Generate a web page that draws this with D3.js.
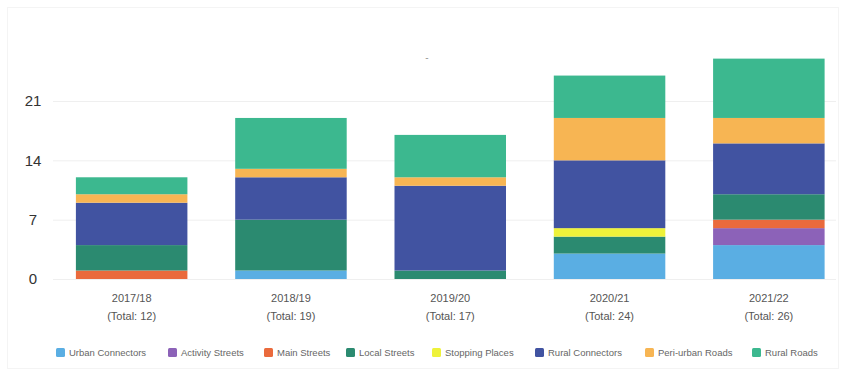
<!DOCTYPE html>
<html>
<head>
<meta charset="utf-8">
<script src="https://cdn.jsdelivr.net/npm/d3@7/dist/d3.min.js"></script>
<style>
  html, body { margin: 0; padding: 0; background: #ffffff; }
  svg { display: block; font-family: "Liberation Sans", Arial, sans-serif; }
</style>
</head>
<body>
<svg id="chart" width="846" height="376"></svg>
<script>
// Financial years on the x axis
const years = ["2017/18", "2018/19", "2019/20", "2020/21", "2021/22"];
// Totals shown under each year
const totals = [12, 19, 17, 24, 26];
// Road classification series (stacked bottom to top)
const seriesNames = ["Urban Connectors", "Activity Streets", "Main Streets", "Local Streets",
                     "Stopping Places", "Rural Connectors", "Peri-urban Roads", "Rural Roads"];
const urbanConnectors = [0, 1, 0, 3, 4];
const activityStreets = [0, 0, 0, 0, 2];
const mainStreets     = [1, 0, 0, 0, 1];
const localStreets    = [3, 6, 1, 2, 3];
const stoppingPlaces  = [0, 0, 0, 1, 0];
const ruralConnectors = [5, 5, 10, 8, 6];
const periUrbanRoads  = [1, 1, 1, 5, 3];
const ruralRoads      = [2, 6, 5, 5, 7];
// Y axis tick values
const yTicks = [0, 7, 14, 21];

const seriesValues = [urbanConnectors, activityStreets, mainStreets, localStreets,
                      stoppingPlaces, ruralConnectors, periUrbanRoads, ruralRoads];
const colors = ["#5aaee3", "#8c62b8", "#ea6a3c", "#2b8a70",
                "#eef23a", "#4153a1", "#f7b553", "#3cb88f"];

const rows = years.map((y, i) => {
  const r = { year: y };
  seriesNames.forEach((s, k) => { r[s] = seriesValues[k][i]; });
  return r;
});

const svg = d3.select("#chart");

// faint card outline
svg.append("rect")
  .attr("x", 7.5).attr("y", 7.5).attr("width", 831).attr("height", 361)
  .attr("fill", "#ffffff").attr("stroke", "#f4f4f4");

const x = d3.scaleBand().domain(years).range([52, 848.5])
  .paddingInner(0.3).paddingOuter(0.15);
const y = d3.scaleLinear().domain([0, 21]).range([279, 101]);

// gridlines
svg.append("g").selectAll("line").data(yTicks).join("line")
  .attr("x1", 53).attr("x2", 836)
  .attr("y1", d => y(d) + 0.5).attr("y2", d => y(d) + 0.5)
  .attr("stroke", "#efefef").attr("stroke-width", 1);

// y axis labels
const yAxis = d3.axisLeft(y).tickValues(yTicks).tickSize(0).tickPadding(0);
const yg = svg.append("g").attr("transform", "translate(33,0)").call(yAxis);
yg.select(".domain").remove();
yg.selectAll("text")
  .attr("text-anchor", "middle")
  .attr("font-size", 15)
  .attr("font-family", "Liberation Sans, Arial, sans-serif")
  .attr("fill", "#333");

// stacked bars
const stack = d3.stack().keys(seriesNames);
const layers = stack(rows);
svg.append("g").selectAll("g").data(layers).join("g")
  .attr("fill", (d, i) => colors[i])
  .selectAll("rect").data(d => d).join("rect")
  .attr("x", d => x(d.data.year))
  .attr("width", x.bandwidth())
  .attr("y", d => y(d[1]))
  .attr("height", d => y(d[0]) - y(d[1]));

// x axis labels (year + total)
const xg = svg.append("g");
years.forEach((yr, i) => {
  const cx = x(yr) + x.bandwidth() / 2;
  const t = xg.append("text")
    .attr("x", cx).attr("text-anchor", "middle")
    .attr("font-size", 11).attr("fill", "#555");
  t.append("tspan").attr("x", cx).attr("y", 302).text(yr);
  t.append("tspan").attr("x", cx).attr("y", 320).text("(Total: " + totals[i] + ")");
});

// small title mark
svg.append("text").attr("x", 427).attr("y", 61)
  .attr("text-anchor", "middle").attr("font-size", 10).attr("fill", "#999").text("-");

// legend
const legendStarts = [56, 168, 264, 346, 432, 535, 645, 752];
const lg = svg.append("g");
seriesNames.forEach((name, i) => {
  const gx = legendStarts[i];
  lg.append("rect").attr("x", gx).attr("y", 348).attr("width", 9).attr("height", 9)
    .attr("rx", 1.5).attr("fill", colors[i]);
  lg.append("text").attr("x", gx + 13).attr("y", 356)
    .attr("font-size", 9.5).attr("fill", "#666").text(name);
});
</script>
</body>
</html>
